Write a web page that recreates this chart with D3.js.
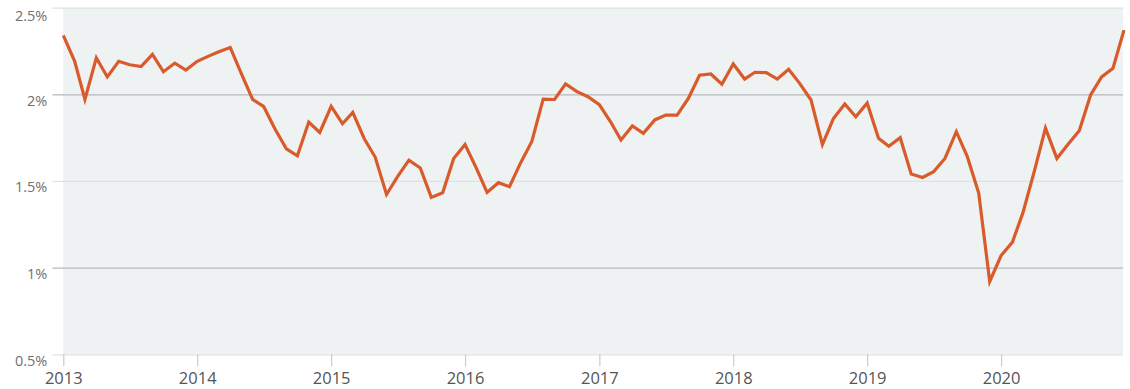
<!DOCTYPE html>
<html>
<head>
<meta charset="utf-8">
<script src="https://cdn.jsdelivr.net/npm/d3@7/dist/d3.min.js"></script>
<style>
  html, body { margin: 0; padding: 0; background: #ffffff; }
  svg { display: block; }
  text { font-family: "Open Sans", "Noto Sans", sans-serif; }
</style>
</head>
<body>
<svg id="chart" width="1130" height="389"></svg>
<script>
// Monthly rate, Jan 2013 – Dec 2020 (percent)
const rate2013 = [2.34, 2.19, 1.97, 2.21, 2.10, 2.19, 2.17, 2.16, 2.23, 2.13, 2.18, 2.14];
const rate2014 = [2.19, 2.22, 2.245, 2.27, 2.12, 1.97, 1.93, 1.80, 1.685, 1.645, 1.84, 1.78];
const rate2015 = [1.93, 1.83, 1.895, 1.745, 1.638, 1.422, 1.525, 1.62, 1.575, 1.405, 1.432, 1.63];
const rate2016 = [1.71, 1.573, 1.434, 1.49, 1.467, 1.607, 1.728, 1.972, 1.97, 2.06, 2.015, 1.986];
const rate2017 = [1.94, 1.84, 1.736, 1.817, 1.775, 1.852, 1.88, 1.88, 1.977, 2.11, 2.117, 2.058];
const rate2018 = [2.175, 2.088, 2.127, 2.125, 2.088, 2.144, 2.063, 1.967, 1.71, 1.86, 1.944, 1.87];
const rate2019 = [1.95, 1.746, 1.70, 1.75, 1.54, 1.52, 1.553, 1.63, 1.784, 1.64, 1.43, 0.92];
const rate2020 = [1.07, 1.147, 1.32, 1.56, 1.805, 1.63, 1.71, 1.79, 1.996, 2.10, 2.15, 2.37];

const years = [2013, 2014, 2015, 2016, 2017, 2018, 2019, 2020];
const yTickValues = [0.5, 1, 1.5, 2, 2.5];

const series = [rate2013, rate2014, rate2015, rate2016, rate2017, rate2018, rate2019, rate2020]
  .flatMap((vals, yi) => vals.map((v, m) => ({ date: new Date(years[yi], m, 1), value: v })));

const svg = d3.select("#chart");
const margin = { top: 7.6, right: 6, bottom: 34.7, left: 63.3 };
const width = 1130, height = 389;

const x = d3.scaleTime()
  .domain([new Date(2013, 0, 1), new Date(2020, 11, 1)])
  .range([margin.left, 1124]);

const y = d3.scaleLinear()
  .domain([0.5, 2.5])
  .range([height - margin.bottom, margin.top]);

// Plot panel
svg.append("rect")
  .attr("x", margin.left)
  .attr("y", margin.top)
  .attr("width", 1123 - margin.left)
  .attr("height", y(0.5) - margin.top)
  .attr("fill", "#eff2f3");

// Horizontal gridlines, continuing to the left as tick marks
const yAxis = svg.append("g")
  .attr("transform", `translate(${margin.left},0)`)
  .call(d3.axisLeft(y)
    .tickValues(yTickValues)
    .tickSize(11)
    .tickPadding(6)
    .tickFormat(d => d + "%"));
yAxis.select(".domain").remove();
yAxis.selectAll(".tick line")
  .attr("x2", 1123 - margin.left)
  .attr("x1", -11)
  .attr("stroke", d => (d % 1 === 0 ? "#b5b9bb" : "#dfe2e4"))
  .attr("stroke-width", 1.2);
yAxis.selectAll(".tick text")
  .attr("x", -16)
  .attr("dy", "0.74em")
  .attr("fill", "#6f6f6f")
  .style("font-size", "14.5px");
yAxis.selectAll(".tick").filter(d => d === 2.5).select("text").attr("dy", "0.9em");

// Year axis
const xAxis = svg.append("g")
  .attr("transform", `translate(0,${y(0.5)})`)
  .call(d3.axisBottom(x)
    .tickValues(years.map(yr => new Date(yr, 0, 1)))
    .tickSize(12)
    .tickPadding(6)
    .tickFormat(d3.timeFormat("%Y")));
xAxis.select(".domain").remove();
xAxis.selectAll(".tick line").attr("stroke", "#c9cccd").attr("stroke-width", 1.2);
xAxis.selectAll(".tick text")
  .attr("fill", "#555555")
  .style("font-size", "16.5px");

// Rate line
svg.append("path")
  .datum(series)
  .attr("fill", "none")
  .attr("stroke", "#d95a2b")
  .attr("stroke-width", 3.2)
  .attr("stroke-linejoin", "miter")
  .attr("d", d3.line().x(d => x(d.date)).y(d => y(d.value)));
</script>
</body>
</html>
